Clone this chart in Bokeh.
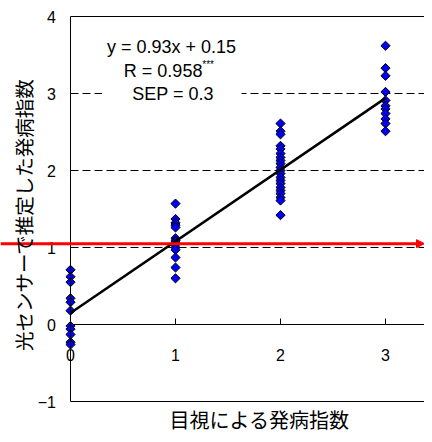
import numpy as np
from bokeh.plotting import figure
from bokeh.models import (ColumnDataSource, Range1d, Label, BoxAnnotation, Arrow, NormalHead)
from bokeh.core.properties import value
from bokeh.embed import file_html
from bokeh.resources import INLINE

# ---- data ----
visual_0 = [0.71, 0.62, 0.55, 0.34, 0.29, 0.18, -0.02, -0.06, -0.13, -0.23, -0.26]
visual_1 = [1.57, 1.37, 1.32, 1.29, 1.26, 1.12, 1.09, 1.07, 1.04, 1.00, 0.97, 0.87, 0.74, 0.60]
visual_2 = [2.61, 2.51, 2.47, 2.32, 2.28, 2.22, 2.17, 2.13, 2.09, 2.04, 2.00, 1.96, 1.91,
            1.87, 1.83, 1.78, 1.74, 1.70, 1.65, 1.61, 1.42]
visual_3 = [3.62, 3.33, 3.23, 3.02, 2.91, 2.84, 2.80, 2.74, 2.67, 2.61, 2.51]
visual_levels = [0, 1, 2, 3]
fit_slope = 0.93
fit_intercept = 0.15
threshold = 1.05
x_ticks = [0, 1, 2, 3]
x_tick_labels = ["0", "1", "2", "3"]
y_ticks = [-1, 0, 1, 2, 3, 4]
y_tick_labels = ["\u22121", "0", "1", "2", "3", "4"]
grid_levels = [1, 2, 3]
eq_text = "y = 0.93x + 0.15"
r_text = "R = 0.958"
r_sig = "***"
sep_text = "SEP = 0.3"
x_title = "目視による発病指数"
y_title = "光センサーで推定した発病指数"

NUM_FONT = "Liberation Sans"
JP_FONT = "Noto Sans CJK JP"

xs, ys = [], []
for lvl, vals in zip(visual_levels, [visual_0, visual_1, visual_2, visual_3]):
    xs += [lvl] * len(vals)
    ys += vals
pts = ColumnDataSource(dict(x=xs, y=ys))

W, H = 424, 434
PX_X, X_ORG = 105.0, 70.0      # pixels per x unit, canvas x of x=0
PX_Y, Y_ORG = 77.0, 324.0      # pixels per y unit, canvas y of y=0
XS, XE = -X_ORG / PX_X, (W - X_ORG) / PX_X
YT, YB = Y_ORG / PX_Y, -(H - Y_ORG) / PX_Y
YMIN, YMAX = y_ticks[0], y_ticks[-1]

p = figure(width=W, height=H, output_backend="svg", toolbar_location=None,
           x_range=Range1d(XS, XE), y_range=Range1d(YB, YT),
           min_border=0, min_border_left=0, min_border_right=0,
           min_border_top=0, min_border_bottom=0)
p.outline_line_color = None
p.xaxis.visible = False
p.yaxis.visible = False
p.xgrid.visible = False
p.ygrid.visible = False

# dashed grid lines
n = len(grid_levels)
gsrc = ColumnDataSource(dict(x0=[x_ticks[0]] * n, x1=[XE] * n, y=grid_levels))
p.segment(x0="x0", y0="y", x1="x1", y1="y", source=gsrc, line_color="black",
          line_width=1, line_dash="8 4")

# frame top / bottom lines and x axis at 0
fsrc = ColumnDataSource(dict(x0=[x_ticks[0]] * 3, x1=[XE] * 3, y=[YMIN, 0, YMAX]))
p.segment(x0="x0", y0="y", x1="x1", y1="y", source=fsrc, line_color="black", line_width=1)

# x ticks (inward) and labels
tsrc = ColumnDataSource(dict(x=x_ticks[1:], y0=[0] * 3, y1=[6 / PX_Y] * 3))
p.segment(x0="x", y0="y0", x1="x", y1="y1", source=tsrc, line_color="black", line_width=1)
lsrc = ColumnDataSource(dict(x=x_ticks, y=[-30 / PX_Y] * len(x_ticks), t=x_tick_labels))
p.text(x="x", y="y", text="t", source=lsrc, text_font=value(NUM_FONT),
       text_font_size="16px", text_align="center", text_baseline="middle", text_color="black")

# y tick labels
ysrc = ColumnDataSource(dict(x=[-14.5 / PX_X] * len(y_ticks), y=y_ticks, t=y_tick_labels))
p.text(x="x", y="y", text="t", source=ysrc, text_font=value(NUM_FONT),
       text_font_size="16px", text_align="right", text_baseline="middle", text_color="black")

# points
p.scatter(x="x", y="y", source=pts, marker="square", angle=np.pi / 4, size=6.5,
          fill_color="#0000FF", line_color="black", line_width=1)

# regression line
fx = [visual_levels[0], visual_levels[-1]]
fy = [fit_slope * v + fit_intercept for v in fx]
p.line(fx, fy, line_color="black", line_width=2.5)

# y axis line at x=0
p.segment(x0=[x_ticks[0]], y0=[YMIN], x1=[x_ticks[0]], y1=[YMAX], line_color="black", line_width=1)

# text box
p.add_layout(BoxAnnotation(left=0.30, right=1.63, bottom=2.79, top=3.74,
                           fill_color="white", fill_alpha=1, line_color=None))
p.add_layout(Label(x=0.962, y=(Y_ORG - 56.7) / PX_Y, text=eq_text, text_font=NUM_FONT,
                   text_font_size="18px", text_align="center", text_color="black"))
p.add_layout(Label(x=0.508, y=(Y_ORG - 80) / PX_Y, text=r_text, text_font=NUM_FONT,
                   text_font_size="18px", text_align="left", text_color="black"))
p.add_layout(Label(x=1.255, y=(Y_ORG - 69) / PX_Y, text=r_sig, text_font=NUM_FONT,
                   text_font_size="10px", text_align="left", text_color="black"))
p.add_layout(Label(x=0.976, y=(Y_ORG - 103.3) / PX_Y, text=sep_text, text_font=NUM_FONT,
                   text_font_size="18px", text_align="center", text_color="black"))

# red threshold arrow
p.add_layout(Arrow(end=NormalHead(size=8, fill_color="red", line_color="red"),
                   x_start=XS, y_start=threshold, x_end=XE, y_end=threshold,
                   line_color="red", line_width=3))

# axis titles
p.add_layout(Label(x=(259 - X_ORG) / PX_X, y=(Y_ORG - 419) / PX_Y, text=x_title,
                   text_font=JP_FONT, text_font_size="20px", text_align="center",
                   text_baseline="middle", text_color="black"))
p.add_layout(Label(x=(23 - X_ORG) / PX_X, y=(Y_ORG - 214) / PX_Y, text=y_title,
                   text_font=JP_FONT, angle=np.pi / 2, text_font_size="19.5px",
                   text_align="center", text_baseline="middle", text_color="black"))

open("out.html", "w").write(file_html(p, INLINE))
